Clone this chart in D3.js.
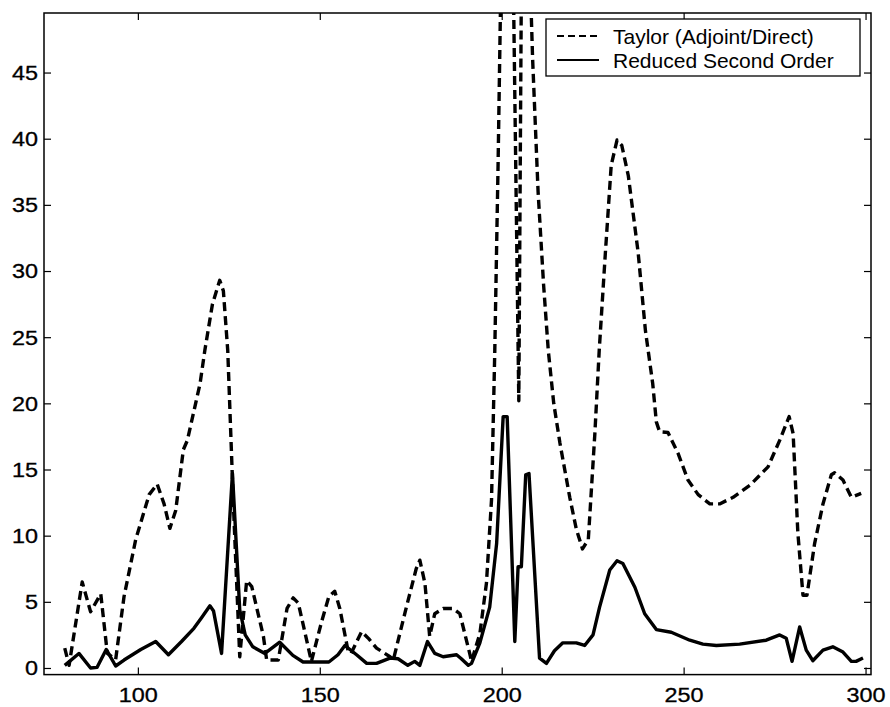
<!DOCTYPE html>
<html>
<head>
<meta charset="utf-8">
<script src="https://cdn.jsdelivr.net/npm/d3@7"></script>
<style>
  html, body { margin: 0; padding: 0; background: #fff; }
  svg { display: block; }
</style>
</head>
<body>
<svg id="chart" width="890" height="707"></svg>
<script>
// ---- Data ----
const seriesNames = ["Taylor (Adjoint/Direct)", "Reduced Second Order"];

const taylorX = [79.9,81.1,84.7,87,89.8,91.6,93.9,96.2,99.4,103.1,105.3,107.2,108.8,110.4,112.5,113.6,117.1,118.4,120.5,122.5,123.5,124.7,126.2,128,129.9,131.3,134.5,135.4,138.6,141,142.7,144.1,147.7,150.5,152.5,154.1,155.5,157.8,158.6,161.5,163.5,165.6,169.3,170.2,173.8,176.5,177.5,178.9,180.2,181.6,183.9,186.6,188.5,191.2,191.7,194,195.8,197.2,198.1,199,200,201.5,203,204.7,205.5,206.5,207.5,208.5,210,211.5,212.8,214.3,216,218.7,220.5,222.2,223.8,225.6,226.8,228.5,230.1,231.7,233,234.8,237.5,239.5,241.5,242.5,243.4,245.7,248.5,251.2,254,257.2,259.9,263.6,268.2,273.2,276.4,279,280.1,281.4,282.8,283.9,286,288.3,290.6,291.5,293.8,296.1,298.8];
const taylorY = [1.5,0.2,6.5,4.25,5.6,1.1,0.65,5.4,9.7,13.1,13.9,12.4,10.55,11.9,16.5,17.2,21.5,24,27.5,29.3,28.5,24,12.7,0.85,6.6,6.15,2.4,0.6,0.6,4.5,5.3,4.9,0.5,3.5,5.4,5.8,4.5,1.25,1.1,2.75,2.2,1.5,0.85,0.6,4.6,7.5,8.15,6.4,2.4,4.1,4.5,4.5,4.1,1.1,0.5,2.6,6.4,12.7,24,38,56,75,56,20.2,56,70,55,46,36,29,24,20,17,12.9,10.5,9.0,9.7,17.7,24,31.4,38,39.9,39.5,37.2,31.4,25.5,21.5,18.6,17.85,17.8,16.2,14.2,13.1,12.4,12.4,12.9,13.8,15.2,17.2,19,17.7,10.2,5.5,5.5,9.4,12.4,14.6,14.75,14.2,12.9,13.2];

const reducedX = [79.9,83.8,87,88.8,91.3,93.9,96.2,100.8,104.9,108.4,112,115.4,117.5,119.8,120.8,123,126,128,129.5,131.6,134.9,139,142.6,145.4,152.5,155,156.9,160.1,162.9,165.6,169.3,171.5,174.2,176.1,177.5,179.6,181.6,183.9,187.6,188.9,190.8,191.7,194,196.7,198.6,200.4,201.5,203.6,204.5,205.4,206.6,207.5,210.4,212.3,214.5,216.8,220.5,222.8,225.1,226.9,229.7,231.7,233.3,236.6,239.3,242.5,246.6,251.7,255.3,259,265.4,272.7,276.4,278.2,279.8,281.9,283.7,285.5,288.3,291,293.8,296.1,297.4,299.3];
const reducedY = [0.2,1.1,0,0.05,1.4,0.15,0.6,1.4,2.0,1.0,2.0,3.0,3.8,4.7,4.3,1.1,14.7,4.4,2.5,1.6,1.1,1.95,0.95,0.45,0.45,1.0,1.7,1.0,0.35,0.35,0.75,0.7,0.2,0.5,0.2,2.0,1.1,0.85,1.0,0.7,0.2,0.35,1.9,4.6,9.4,19.0,19.0,2.0,7.65,7.65,14.6,14.7,0.75,0.35,1.3,1.9,1.9,1.7,2.5,4.6,7.4,8.1,7.9,6.1,4.1,2.9,2.7,2.1,1.8,1.7,1.8,2.1,2.5,2.25,0.5,3.1,1.35,0.55,1.35,1.6,1.2,0.5,0.5,0.75];

const xTicks = [100, 150, 200, 250, 300];
const yTicks = [0, 5, 10, 15, 20, 25, 30, 35, 40, 45];
const xDomain = [74.2, 301.5];
const yDomain = [-0.5, 49.5];

// ---- Layout ----
const svg = d3.select("#chart");
const L = 44, T = 13, R = 871, B = 674.6;
const x = d3.scaleLinear().domain(xDomain).range([L, R]);
const y = d3.scaleLinear().domain(yDomain).range([B, T]);

const font = "'Liberation Sans', Arial, Helvetica, sans-serif";

svg.append("rect").attr("width", 890).attr("height", 707).attr("fill", "#fff");

svg.append("defs").append("clipPath").attr("id", "clip")
  .append("rect").attr("x", L).attr("y", T).attr("width", R - L).attr("height", B - T);

// Axes with inward ticks
const tickLen = 7;
const stretch = 1.2;
function styleAxis(g) {
  g.selectAll(".domain").remove();
  g.selectAll(".tick line").attr("stroke", "#000").attr("stroke-width", 1.2);
}
const gB = svg.append("g").attr("transform", `translate(0,${B})`)
  .call(d3.axisBottom(x).tickValues(xTicks).tickSizeInner(-tickLen).tickSizeOuter(0).tickPadding(0).tickFormat(d3.format("d")));
styleAxis(gB);
gB.selectAll(".tick text")
  .attr("font-family", font).attr("font-size", 19.5).attr("fill", "#000")
  .attr("y", 27).attr("dy", 0)
  .attr("stroke", "#000").attr("stroke-width", 0.3)
  .attr("transform", `scale(${stretch},1)`);

const gT = svg.append("g").attr("transform", `translate(0,${T})`)
  .call(d3.axisTop(x).tickValues(xTicks).tickSizeInner(-tickLen).tickSizeOuter(0).tickFormat(""));
styleAxis(gT);

const gL = svg.append("g").attr("transform", `translate(${L},0)`)
  .call(d3.axisLeft(y).tickValues(yTicks).tickSizeInner(-tickLen).tickSizeOuter(0).tickPadding(0).tickFormat(d3.format("d")));
styleAxis(gL);
gL.selectAll(".tick text")
  .attr("font-family", font).attr("font-size", 19.5).attr("fill", "#000")
  .attr("x", -6 / stretch).attr("dy", "0.35em")
  .attr("stroke", "#000").attr("stroke-width", 0.3)
  .attr("transform", `scale(${stretch},1)`);

const gR = svg.append("g").attr("transform", `translate(${R},0)`)
  .call(d3.axisRight(y).tickValues(yTicks).tickSizeInner(-tickLen).tickSizeOuter(0).tickFormat(""));
styleAxis(gR);

// Frame
svg.append("rect").attr("x", L).attr("y", T).attr("width", R - L).attr("height", B - T)
  .attr("fill", "none").attr("stroke", "#000").attr("stroke-width", 1.5);

// Lines
const taylor = taylorX.map((v, i) => [v, taylorY[i]]);
const reduced = reducedX.map((v, i) => [v, reducedY[i]]);
const line = d3.line().x(d => x(d[0])).y(d => y(d[1])).curve(d3.curveLinear);

const plot = svg.append("g").attr("clip-path", "url(#clip)");
plot.append("path").datum(taylor).attr("d", line)
  .attr("fill", "none").attr("stroke", "#000").attr("stroke-width", 3.4)
  .attr("stroke-dasharray", "9,5").attr("stroke-linejoin", "round");
plot.append("path").datum(reduced).attr("d", line)
  .attr("fill", "none").attr("stroke", "#000").attr("stroke-width", 3.4)
  .attr("stroke-linejoin", "round");

// Legend
const lg = svg.append("g");
lg.append("rect").attr("x", 546).attr("y", 19).attr("width", 314).attr("height", 57)
  .attr("fill", "#fff").attr("stroke", "#000").attr("stroke-width", 1.3);
const legendItems = [
  { name: seriesNames[0], dash: "7,4", yc: 36 },
  { name: seriesNames[1], dash: null, yc: 60 }
];
legendItems.forEach(it => {
  const l = lg.append("line").attr("x1", 557).attr("x2", 599).attr("y1", it.yc).attr("y2", it.yc)
    .attr("stroke", "#000").attr("stroke-width", 2.2);
  if (it.dash) l.attr("stroke-dasharray", it.dash);
  lg.append("text").attr("x", 613).attr("y", it.yc + 7.5)
    .attr("font-family", font).attr("font-size", 21).attr("fill", "#000").text(it.name);
});
</script>
</body>
</html>
